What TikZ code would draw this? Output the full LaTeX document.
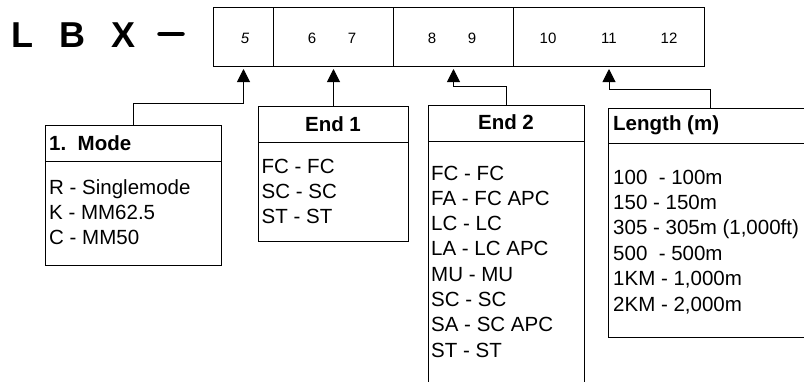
\documentclass[tikz,border=0pt]{standalone}
\usepackage{fontspec}
\setmainfont{Liberation Sans}
\usetikzlibrary{arrows.meta}
\begin{document}
\begin{tikzpicture}[x=1pt,y=-1pt,
  box/.style={draw, line width=1pt, inner sep=0pt, anchor=north west},
  item/.style={anchor=base west, inner sep=0pt, font=\fontsize{20.5}{25}\selectfont},
  head/.style={inner sep=0pt, font=\fontsize{20.5}{25}\selectfont\bfseries},
  num/.style={inner sep=0pt, anchor=base, font=\fontsize{15}{18}\selectfont},
  big/.style={inner sep=0pt, anchor=base, font=\fontsize{36}{40}\selectfont\bfseries},
  conn/.style={line width=1pt, -{Triangle[width=13pt,length=13pt]}, shorten >=2pt}]
\clip (0,0) rectangle (804,381);
\fill[white] (0,0) rectangle (804,381);

% part number prefix
\node[big] (L) at (22,47) {L};
\node[big] (B) at (72.5,47) {B};
\node[big] (X) at (123.5,47) {X};
\draw[line width=4.5pt, line cap=round] (159.5,34) -- (182.5,34);

% code strip
\node[box, minimum width=60pt, minimum height=59pt] (c5) at (213,7) {};
\node[box, minimum width=120pt, minimum height=59pt] (c67) at (273,7) {};
\node[box, minimum width=120pt, minimum height=59pt] (c89) at (393,7) {};
\node[box, minimum width=191pt, minimum height=59pt] (c1012) at (513,7) {};
\node[num] (n5) at (245,43) {\itshape 5};
\node[num] (n6) at (312,43) {6};
\node[num] (n7) at (352,43) {7};
\node[num] (n8) at (432,43) {8};
\node[num] (n9) at (472,43) {9};
\node[num] (n10) at (548,43) {10};
\node[num] (n11) at (609,43) {11};
\node[num] (n12) at (669,43) {12};

% option boxes
\node[box, minimum width=176pt, minimum height=140pt] (mode) at (45,125) {};
\node[box, minimum width=150pt, minimum height=135pt] (end1) at (258,106) {};
\node[box, minimum width=156pt, minimum height=300pt] (end2) at (428,105) {};
\node[box, minimum width=204pt, minimum height=229pt] (len) at (608,108) {};
\draw[line width=1pt] (mode.west |- 0,161) -- (mode.east |- 0,161);
\draw[line width=1pt] (end1.west |- 0,142) -- (end1.east |- 0,142);
\draw[line width=1pt] (end2.west |- 0,141) -- (end2.east |- 0,141);
\draw[line width=1pt] (len.west |- 0,143) -- (len.east |- 0,143);

% headers
\node[head, anchor=base west] (hmode) at (49,150) {1.\ \ Mode};
\node[head, anchor=base] (hend1) at (333,131) {End 1};
\node[head, anchor=base] (hend2) at (506,129) {End 2};
\node[head, anchor=base west] (hlen) at (613,130) {Length (m)};

% items
\foreach \t [count=\i from 0] in {R - Singlemode, K - MM62.5, C - MM50}
  \node[item] (m\i) at (49,{194+25.3*\i}) {\t};
\foreach \t [count=\i from 0] in {FC - FC, SC - SC, ST - ST}
  \node[item] (a\i) at (261.5,{173+25*\i}) {\t};
\foreach \t [count=\i from 0] in {FC - FC, FA - FC APC, LC - LC, LA - LC APC, MU - MU, SC - SC, SA - SC APC, ST - ST}
  \node[item] (b\i) at (431,{180+25.3*\i}) {\t};
\foreach \t [count=\i from 0] in {100\ \ - 100m, 150 - 150m, 305 - 305m (1{,}000ft), 500\ \ - 500m, 1KM - 1{,}000m, 2KM - 2{,}000m}
  \node[item] (l\i) at (613,{184+25.4*\i}) {\t};

% connectors
\draw[conn] (mode.north) -- ++(0,-22) -| (c5.south);
\draw[conn] (end1.north) -- (c67.south);
\draw[conn] (end2.north) -- ++(0,-19) -| (c89.south);
\draw[conn] (len.north) -- ++(0,-19) -| (c1012.south);
\end{tikzpicture}
\end{document}
